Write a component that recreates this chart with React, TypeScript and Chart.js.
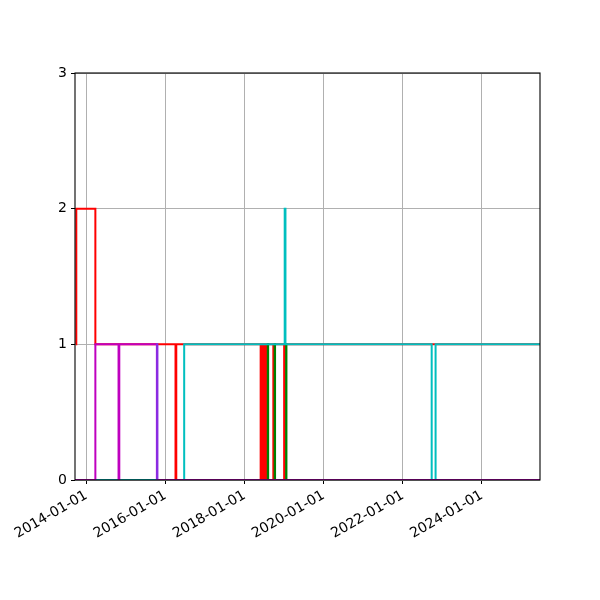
import { useEffect, useRef } from "react";
import { Chart, registerables } from "chart.js";
import type { Plugin } from "chart.js";

Chart.register(...registerables);

// x range of the plot (data start / end)
const X_START = "2013-09-18";
const X_END = "2025-06-20";
const TICK_YEARS = [2014, 2016, 2018, 2020, 2022, 2024];

// each series is a step line: value holds from its date until the next date
const redDates = [
  "2013-09-25", "2013-09-30", "2014-03-25", "2016-04-03", "2016-04-10",
  "2018-05-29", "2018-06-05", "2018-06-12", "2018-06-19", "2018-06-26",
  "2018-07-03", "2018-07-10", "2018-07-17", "2018-07-24", "2018-07-31",
  "2018-09-23", "2018-09-29", "2019-01-01", "2019-01-05", X_END,
];
const redValues = [1, 2, 1, 0, 1, 0, 1, 0, 1, 0, 1, 0, 1, 0, 1, 0, 1, 0, 1, 1];

const greenDates = [
  "2017-01-01", "2018-08-03", "2018-08-06", "2018-10-06", "2018-10-09",
  "2019-01-19", "2019-01-22", X_END,
];
const greenValues = [0, 1, 0, 1, 0, 1, 0, 0];

const violetDates = ["2015-10-13", "2015-10-15", "2015-10-19", "2015-10-22"];
const violetValues = [0, 1, 0, 0];

const cyanDates = [
  "2014-03-25", "2016-06-22", "2019-01-06", "2019-01-13",
  "2022-09-24", "2022-10-30", X_END,
];
const cyanValues = [0, 1, 2, 1, 0, 1, 1];

const magentaDates = [
  "2013-09-18", "2014-03-25", "2014-10-25", "2014-11-01", "2015-10-14", X_END,
];
const magentaValues = [0, 1, 0, 1, 0, 0];

const toMs = (d: string) => {
  const [y, m, day] = d.split("-").map(Number);
  return Date.UTC(y, m - 1, day);
};

const points = (dates: string[], values: number[]) =>
  dates.map((d, i) => ({ x: toMs(d), y: values[i] }));

const fmtDate = (ms: number) => new Date(ms).toISOString().slice(0, 10);

// black frame round the plot area, like matplotlib spines
const spines: Plugin<"line"> = {
  id: "spines",
  afterDatasetsDraw(chart) {
    const { ctx, chartArea: a } = chart;
    ctx.save();
    ctx.strokeStyle = "#000";
    ctx.lineWidth = 1.1;
    ctx.strokeRect(a.left, a.top, a.right - a.left, a.bottom - a.top);
    ctx.restore();
  },
};

export default function App() {
  const canvasRef = useRef<HTMLCanvasElement | null>(null);

  useEffect(() => {
    document.body.style.margin = "0";
    if (!canvasRef.current) return;

    const line = (data: { x: number; y: number }[], color: string, order: number) => ({
      data,
      borderColor: color,
      backgroundColor: color,
      borderWidth: 2,
      pointRadius: 0,
      stepped: "before" as const,
      fill: false,
      order,
    });

    const chart = new Chart(canvasRef.current, {
      type: "line",
      data: {
        datasets: [
          line(points(redDates, redValues), "#ff0000", 5),
          line(points(greenDates, greenValues), "#008000", 4),
          line(points(cyanDates, cyanValues), "#00bfbf", 2),
          line(points(magentaDates, magentaValues), "#bf00bf", 1),
          line(points(violetDates, violetValues), "#8a2be2", 0),
        ],
      },
      options: {
        responsive: false,
        animation: false,
        devicePixelRatio: 1,
        layout: { padding: { top: 73, right: 60, left: 0, bottom: 0 } },
        plugins: { legend: { display: false }, tooltip: { enabled: false } },
        font: { family: "DejaVu Sans", size: 14 },
        scales: {
          x: {
            type: "linear",
            min: toMs(X_START),
            max: toMs(X_END),
            afterBuildTicks: (scale) => {
              scale.ticks = TICK_YEARS.map((y) => ({ value: Date.UTC(y, 0, 1) }));
            },
            afterFit: (scale) => {
              scale.height = 120;
              scale.paddingLeft = 0;
              scale.paddingRight = 0;
            },
            ticks: {
              color: "#000",
              font: { family: "DejaVu Sans", size: 14 },
              minRotation: 30,
              maxRotation: 30,
              padding: 3,
              autoSkip: false,
              callback: (v) => fmtDate(Number(v)),
            },
            grid: {
              color: "#b0b0b0",
              lineWidth: 1,
              tickColor: "#000",
              tickLength: 4,
              tickWidth: 1,
            },
            border: { display: false },
          },
          y: {
            min: 0,
            max: 3,
            afterFit: (scale) => {
              scale.width = 75;
              scale.paddingTop = 0;
              scale.paddingBottom = 0;
            },
            ticks: {
              stepSize: 1,
              color: "#000",
              font: { family: "DejaVu Sans", size: 14 },
              padding: 4,
            },
            grid: {
              color: "#b0b0b0",
              lineWidth: 1,
              tickColor: "#000",
              tickLength: 4,
              tickWidth: 1,
            },
            border: { display: false },
          },
        },
      },
      plugins: [spines],
    });

    return () => chart.destroy();
  }, []);

  return (
    <div style={{ width: 600, height: 600, background: "#fff" }}>
      <canvas ref={canvasRef} width={600} height={600} />
    </div>
  );
}
